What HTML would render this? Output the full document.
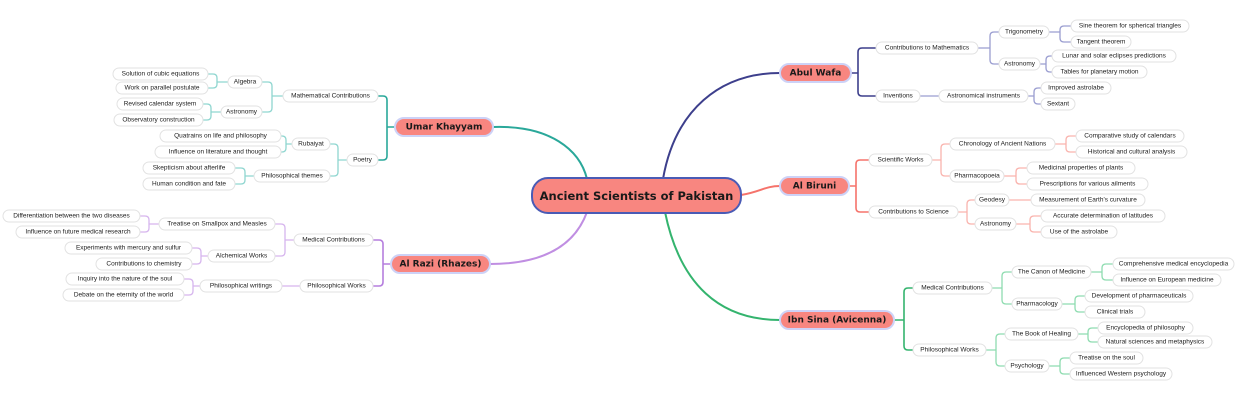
<!DOCTYPE html>
<html><head><meta charset="utf-8"><style>
html,body{margin:0;padding:0;background:#fff;}
svg{display:block;}
.l{font-family:"Liberation Sans",sans-serif;font-size:6.5px;fill:#222;text-anchor:middle;dominant-baseline:central;}
.p{fill:#fff;stroke:#e2e2e2;stroke-width:1;}
.m{font-family:"DejaVu Sans","Liberation Sans",sans-serif;font-weight:bold;font-size:9px;fill:#1a1a1a;text-anchor:middle;dominant-baseline:central;}
.mb{fill:#f88680;stroke:#cdd2f7;stroke-width:2;}
path{fill:none;}
</style></head><body>
<svg width="1240" height="400" viewBox="0 0 1240 400" xmlns="http://www.w3.org/2000/svg">
<path d="M493 127 C550 125 580 150 587 179" stroke="#2aa89a" stroke-width="2"/>
<path d="M587 212 C575 245 545 264 490 264" stroke="#c08ee2" stroke-width="2"/>
<path d="M663 179 C675 110 720 73 780 73" stroke="#3d3f8c" stroke-width="2"/>
<path d="M741 195 C760 192 765 186 780 186" stroke="#f5736b" stroke-width="2"/>
<path d="M665 212 C680 285 720 320 780 320" stroke="#34b46e" stroke-width="2"/>

<path d="M851 73 H858 M858 73 V52 Q858 48 862 48 H876 M858 73 V92 Q858 96 862 96 H876" stroke="#3d3f8c" stroke-width="1.6"/>
<g stroke="#9a9dd0" stroke-width="1.3">
<path d="M978 48 H990 V36 Q990 32 994 32 H999 M990 48 V60 Q990 64 994 64 H999"/>
<path d="M1049 32 H1060 V30 Q1060 26 1064 26 H1071 M1060 32 V38 Q1060 42 1064 42 H1071"/>
<path d="M1040 64 H1046 V60 Q1046 56 1050 56 H1052 M1046 64 V68 Q1046 72 1050 72 H1052"/>
<path d="M920 96 H939"/>
<path d="M1028 96 H1034 V92 Q1034 88 1038 88 H1041 M1034 96 V100 Q1034 104 1038 104 H1041"/>
</g>
<path d="M849 186 H856 V164 Q856 160 860 160 H869 M856 186 V208 Q856 212 860 212 H869" stroke="#f5736b" stroke-width="1.6"/>
<g stroke="#f9b3ad" stroke-width="1.3">
<path d="M932 160 H941 V148 Q941 144 945 144 H950 M941 160 V172 Q941 176 945 176 H950"/>
<path d="M1055 144 H1066 V140 Q1066 136 1070 136 H1076 M1066 144 V148 Q1066 152 1070 152 H1076"/>
<path d="M1004 176 H1016 V172 Q1016 168 1020 168 H1027 M1016 176 V180 Q1016 184 1020 184 H1027"/>
<path d="M958 212 H967 V204 Q967 200 971 200 H975 M967 212 V220 Q967 224 971 224 H975"/>
<path d="M1009 200 H1031"/>
<path d="M1016 224 H1030 V220 Q1030 216 1034 216 H1041 M1030 224 V228 Q1030 232 1034 232 H1041"/>
</g>
<path d="M894 320 H904 V292 Q904 288 908 288 H913 M904 320 V346 Q904 350 908 350 H913" stroke="#34b46e" stroke-width="1.6"/>
<g stroke="#8edcb0" stroke-width="1.3">
<path d="M992 288 H1002 V276 Q1002 272 1006 272 H1012 M1002 288 V300 Q1002 304 1006 304 H1012"/>
<path d="M1091 272 H1102 V268 Q1102 264 1106 264 H1113 M1102 272 V276 Q1102 280 1106 280 H1113"/>
<path d="M1062 304 H1075 V300 Q1075 296 1079 296 H1085 M1075 304 V308 Q1075 312 1079 312 H1085"/>
<path d="M986 350 H996 V338 Q996 334 1000 334 H1005 M996 350 V362 Q996 366 1000 366 H1005"/>
<path d="M1078 334 H1088 V332 Q1088 328 1092 328 H1098 M1088 334 V338 Q1088 342 1092 342 H1098"/>
<path d="M1049 366 H1060 V362 Q1060 358 1064 358 H1070 M1060 366 V370 Q1060 374 1064 374 H1070"/>
</g>
<path d="M395 127 H387 M387 127 V100 Q387 96 383 96 H378 M387 127 V156 Q387 160 383 160 H378" stroke="#2aa89a" stroke-width="1.6"/>
<g stroke="#8fd6d0" stroke-width="1.3">
<path d="M283 96 H272 V86 Q272 82 268 82 H262 M272 96 V108 Q272 112 268 112 H262"/>
<path d="M228 82 H217 V78 Q217 74 213 74 H208 M217 82 V84 Q217 88 213 88 H208"/>
<path d="M221 112 H211 V108 Q211 104 207 104 H203 M211 112 V116 Q211 120 207 120 H203"/>
<path d="M347 160 H338 V148 Q338 144 334 144 H330 M338 160 V172 Q338 176 334 176 H330"/>
<path d="M292 144 H286 V140 Q286 136 282 136 H281 M286 144 V148 Q286 152 282 152 H281"/>
<path d="M254 176 H245 V172 Q245 168 241 168 H235 M245 176 V180 Q245 184 241 184 H235"/>
</g>
<path d="M391 264 H383 M383 264 V244 Q383 240 379 240 H373 M383 264 V282 Q383 286 379 286 H373" stroke="#b57ede" stroke-width="1.6"/>
<g stroke="#d6b5ee" stroke-width="1.3">
<path d="M294 240 H285 V228 Q285 224 281 224 H275 M285 240 V252 Q285 256 281 256 H275"/>
<path d="M164 224 H149 V220 Q149 216 145 216 H140 M149 224 V228 Q149 232 145 232 H140"/>
<path d="M212 256 H201 V252 Q201 248 197 248 H192 M201 256 V260 Q201 264 197 264 H192"/>
<path d="M300 286 H282"/>
<path d="M200 286 H193 V283 Q193 279 189 279 H184 M193 286 V291 Q193 295 189 295 H184"/>
</g>

<rect x="532" y="178" width="209" height="35" rx="16" fill="#f88680" stroke="#4a5bb5" stroke-width="2"/>
<text x="636.5" y="196" class="m" style="font-size:11.5px">Ancient Scientists of Pakistan</text>
<rect x="395" y="118" width="98" height="18" rx="9" class="mb"/><text x="444" y="127.5" class="m">Umar Khayyam</text>
<rect x="391" y="255" width="99" height="18" rx="9" class="mb"/><text x="440.5" y="264.5" class="m">Al Razi (Rhazes)</text>
<rect x="780" y="64" width="71" height="18" rx="9" class="mb"/><text x="815.5" y="73.5" class="m">Abul Wafa</text>
<rect x="780" y="177" width="69" height="18" rx="9" class="mb"/><text x="814.5" y="186.5" class="m">Al Biruni</text>
<rect x="780" y="311" width="114" height="18" rx="9" class="mb"/><text x="837" y="320.5" class="m">Ibn Sina (Avicenna)</text>

<g>
<rect class="p" x="876" y="42" width="102" height="12" rx="6"/><text class="l" x="927" y="48">Contributions to Mathematics</text>
<rect class="p" x="876" y="90" width="44" height="12" rx="6"/><text class="l" x="898" y="96">Inventions</text>
<rect class="p" x="999" y="26" width="50" height="12" rx="6"/><text class="l" x="1024" y="32">Trigonometry</text>
<rect class="p" x="999" y="58" width="41" height="12" rx="6"/><text class="l" x="1019.5" y="64">Astronomy</text>
<rect class="p" x="1071" y="20" width="118" height="12" rx="6"/><text class="l" x="1130" y="26">Sine theorem for spherical triangles</text>
<rect class="p" x="1071" y="36" width="60" height="12" rx="6"/><text class="l" x="1101" y="42">Tangent theorem</text>
<rect class="p" x="1052" y="50" width="124" height="12" rx="6"/><text class="l" x="1114" y="56">Lunar and solar eclipses predictions</text>
<rect class="p" x="1052" y="66" width="95" height="12" rx="6"/><text class="l" x="1099.5" y="72">Tables for planetary motion</text>
<rect class="p" x="939" y="90" width="89" height="12" rx="6"/><text class="l" x="983.5" y="96">Astronomical instruments</text>
<rect class="p" x="1041" y="82" width="70" height="12" rx="6"/><text class="l" x="1076" y="88">Improved astrolabe</text>
<rect class="p" x="1041" y="98" width="34" height="12" rx="6"/><text class="l" x="1058" y="104">Sextant</text>

<rect class="p" x="869" y="154" width="63" height="12" rx="6"/><text class="l" x="900.5" y="160">Scientific Works</text>
<rect class="p" x="869" y="206" width="89" height="12" rx="6"/><text class="l" x="913.5" y="212">Contributions to Science</text>
<rect class="p" x="950" y="138" width="105" height="12" rx="6"/><text class="l" x="1002.5" y="144">Chronology of Ancient Nations</text>
<rect class="p" x="950" y="170" width="54" height="12" rx="6"/><text class="l" x="977" y="176">Pharmacopoeia</text>
<rect class="p" x="1076" y="130" width="108" height="12" rx="6"/><text class="l" x="1130" y="136">Comparative study of calendars</text>
<rect class="p" x="1076" y="146" width="111" height="12" rx="6"/><text class="l" x="1131.5" y="152">Historical and cultural analysis</text>
<rect class="p" x="1027" y="162" width="108" height="12" rx="6"/><text class="l" x="1081" y="168">Medicinal properties of plants</text>
<rect class="p" x="1027" y="178" width="121" height="12" rx="6"/><text class="l" x="1087.5" y="184">Prescriptions for various ailments</text>
<rect class="p" x="975" y="194" width="34" height="12" rx="6"/><text class="l" x="992" y="200">Geodesy</text>
<rect class="p" x="975" y="218" width="41" height="12" rx="6"/><text class="l" x="995.5" y="224">Astronomy</text>
<rect class="p" x="1031" y="194" width="114" height="12" rx="6"/><text class="l" x="1088" y="200">Measurement of Earth's curvature</text>
<rect class="p" x="1041" y="210" width="124" height="12" rx="6"/><text class="l" x="1103" y="216">Accurate determination of latitudes</text>
<rect class="p" x="1041" y="226" width="76" height="12" rx="6"/><text class="l" x="1079" y="232">Use of the astrolabe</text>

<rect class="p" x="913" y="282" width="79" height="12" rx="6"/><text class="l" x="952.5" y="288">Medical Contributions</text>
<rect class="p" x="913" y="344" width="73" height="12" rx="6"/><text class="l" x="949.5" y="350">Philosophical Works</text>
<rect class="p" x="1012" y="266" width="79" height="12" rx="6"/><text class="l" x="1051.5" y="272">The Canon of Medicine</text>
<rect class="p" x="1012" y="298" width="50" height="12" rx="6"/><text class="l" x="1037" y="304">Pharmacology</text>
<rect class="p" x="1113" y="258" width="121" height="12" rx="6"/><text class="l" x="1173.5" y="264">Comprehensive medical encyclopedia</text>
<rect class="p" x="1113" y="274" width="108" height="12" rx="6"/><text class="l" x="1167" y="280">Influence on European medicine</text>
<rect class="p" x="1085" y="290" width="108" height="12" rx="6"/><text class="l" x="1139" y="296">Development of pharmaceuticals</text>
<rect class="p" x="1085" y="306" width="60" height="12" rx="6"/><text class="l" x="1115" y="312">Clinical trials</text>
<rect class="p" x="1005" y="328" width="73" height="12" rx="6"/><text class="l" x="1041.5" y="334">The Book of Healing</text>
<rect class="p" x="1005" y="360" width="44" height="12" rx="6"/><text class="l" x="1027" y="366">Psychology</text>
<rect class="p" x="1098" y="322" width="95" height="12" rx="6"/><text class="l" x="1145.5" y="328">Encyclopedia of philosophy</text>
<rect class="p" x="1098" y="336" width="114" height="12" rx="6"/><text class="l" x="1155" y="342">Natural sciences and metaphysics</text>
<rect class="p" x="1070" y="352" width="73" height="12" rx="6"/><text class="l" x="1106.5" y="358">Treatise on the soul</text>
<rect class="p" x="1070" y="368" width="102" height="12" rx="6"/><text class="l" x="1121" y="374">Influenced Western psychology</text>
</g>

<g>
<rect class="p" x="283" y="90" width="95" height="12" rx="6"/><text class="l" x="330.5" y="96">Mathematical Contributions</text>
<rect class="p" x="347" y="154" width="31" height="12" rx="6"/><text class="l" x="362.5" y="160">Poetry</text>
<rect class="p" x="228" y="76" width="34" height="12" rx="6"/><text class="l" x="245" y="82">Algebra</text>
<rect class="p" x="221" y="106" width="41" height="12" rx="6"/><text class="l" x="241.5" y="112">Astronomy</text>
<rect class="p" x="113" y="68" width="95" height="12" rx="6"/><text class="l" x="160.5" y="74">Solution of cubic equations</text>
<rect class="p" x="116" y="82" width="92" height="12" rx="6"/><text class="l" x="162" y="88">Work on parallel postulate</text>
<rect class="p" x="117" y="98" width="86" height="12" rx="6"/><text class="l" x="160" y="104">Revised calendar system</text>
<rect class="p" x="114" y="114" width="89" height="12" rx="6"/><text class="l" x="158.5" y="120">Observatory construction</text>
<rect class="p" x="292" y="138" width="38" height="12" rx="6"/><text class="l" x="311" y="144">Rubaiyat</text>
<rect class="p" x="254" y="170" width="76" height="12" rx="6"/><text class="l" x="292" y="176">Philosophical themes</text>
<rect class="p" x="160" y="130" width="121" height="12" rx="6"/><text class="l" x="220.5" y="136">Quatrains on life and philosophy</text>
<rect class="p" x="155" y="146" width="126" height="12" rx="6"/><text class="l" x="218" y="152">Influence on literature and thought</text>
<rect class="p" x="143" y="162" width="92" height="12" rx="6"/><text class="l" x="189" y="168">Skepticism about afterlife</text>
<rect class="p" x="143" y="178" width="92" height="12" rx="6"/><text class="l" x="189" y="184">Human condition and fate</text>

<rect class="p" x="294" y="234" width="79" height="12" rx="6"/><text class="l" x="333.5" y="240">Medical Contributions</text>
<rect class="p" x="300" y="280" width="73" height="12" rx="6"/><text class="l" x="336.5" y="286">Philosophical Works</text>
<rect class="p" x="159" y="218" width="116" height="12" rx="6"/><text class="l" x="217" y="224">Treatise on Smallpox and Measles</text>
<rect class="p" x="208" y="250" width="67" height="12" rx="6"/><text class="l" x="241.5" y="256">Alchemical Works</text>
<rect class="p" x="3" y="210" width="137" height="12" rx="6"/><text class="l" x="71.5" y="216">Differentiation between the two diseases</text>
<rect class="p" x="16" y="226" width="124" height="12" rx="6"/><text class="l" x="78" y="232">Influence on future medical research</text>
<rect class="p" x="65" y="242" width="127" height="12" rx="6"/><text class="l" x="128.5" y="248">Experiments with mercury and sulfur</text>
<rect class="p" x="96" y="258" width="96" height="12" rx="6"/><text class="l" x="144" y="264">Contributions to chemistry</text>
<rect class="p" x="200" y="280" width="82" height="12" rx="6"/><text class="l" x="241" y="286">Philosophical writings</text>
<rect class="p" x="66" y="273" width="118" height="12" rx="6"/><text class="l" x="125" y="279">Inquiry into the nature of the soul</text>
<rect class="p" x="63" y="289" width="121" height="12" rx="6"/><text class="l" x="123.5" y="295">Debate on the eternity of the world</text>
</g>
</svg>
</body></html>
